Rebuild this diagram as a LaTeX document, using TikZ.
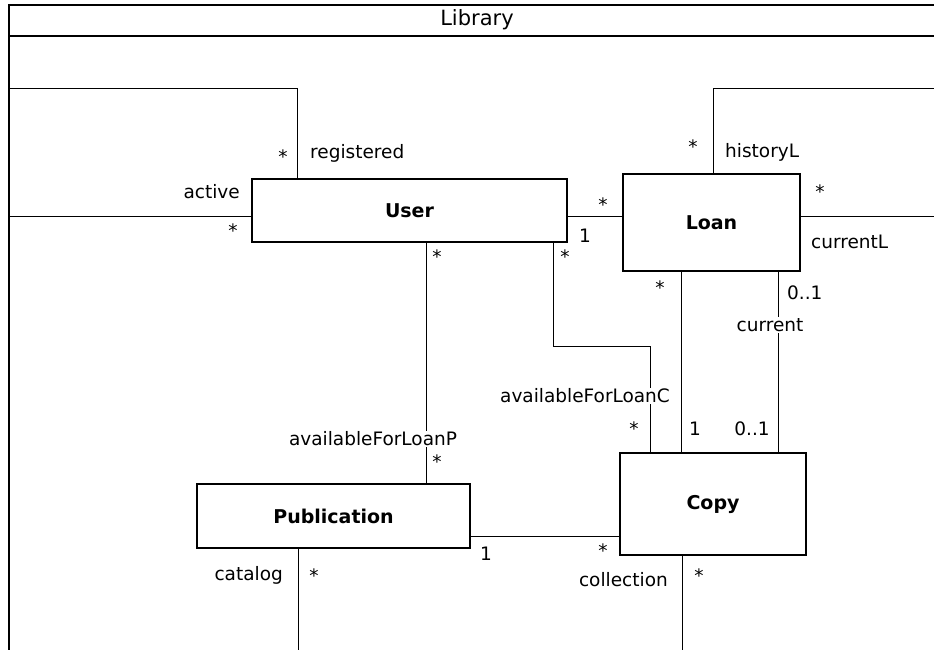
\documentclass[tikz,border=0pt]{standalone}
\usepackage{fontspec}
\setmainfont{DejaVu Sans}
\begin{document}
\begin{tikzpicture}[x=1pt,y=-1pt,
  cls/.style={draw,line width=1.3pt,inner sep=0pt,font=\fontsize{19}{22}\selectfont\bfseries},
  lbl/.style={inner sep=0pt,font=\fontsize{18.5}{22}\selectfont},
  wlbl/.style={lbl,fill=white,inner sep=1pt},
  conn/.style={line width=0.9pt},
  frm/.style={line width=1.6pt}]
\useasboundingbox (0,0) rectangle (934,650);
% frame
\coordinate (fBL) at (9,655);
\coordinate (fTL) at (9,5);
\coordinate (fTR) at (940,5);
\coordinate (hL) at (9,36);
\coordinate (hR) at (940,36);
\draw[frm] (fBL) -- (fTL) -- (fTR);
\draw[frm] (hL) -- (hR);
\node[lbl,font=\fontsize{21}{24}\selectfont] (title) at (477,20) {Library};
% classes
\node[cls,minimum width=315pt,minimum height=63pt] (user) at (409.5,210.5) {User};
\node[cls,minimum width=177pt,minimum height=97pt] (loan) at (711.5,222.5) {Loan};
\node[cls,minimum width=186pt,minimum height=102pt] (copy) at (713,504) {Copy};
\node[cls,minimum width=273pt,minimum height=64pt] (pub) at (333.5,516) {Publication};
% waypoints
\coordinate (regTop) at (297,88);
\coordinate (regEnd) at (9,88);
\coordinate (actEnd) at (9,216);
\coordinate (ulY) at (0,216);
\coordinate (upX) at (426,0);
\coordinate (uc1) at (553,346);
\coordinate (uc2) at (650,346);
\coordinate (lcX) at (681,0);
\coordinate (curX) at (778,0);
\coordinate (histTop) at (713,88);
\coordinate (histEnd) at (940,88);
\coordinate (curLEnd) at (940,216);
\coordinate (pcY) at (0,536);
\coordinate (catEnd) at (298,655);
\coordinate (colEnd) at (682,655);
% connectors
\draw[conn] (user.north -| regTop) -- (regTop) -- (regEnd);
\draw[conn] (user.west |- actEnd) -- (actEnd);
\draw[conn] (user.east |- ulY) -- (loan.west |- ulY);
\draw[conn] (user.south -| upX) -- (pub.north -| upX);
\draw[conn] (user.south -| uc1) -- (uc1) -- (uc2) -- (copy.north -| uc2);
\draw[conn] (loan.south -| lcX) -- (copy.north -| lcX);
\draw[conn] (loan.south -| curX) -- (copy.north -| curX);
\draw[conn] (loan.north -| histTop) -- (histTop) -- (histEnd);
\draw[conn] (loan.east |- curLEnd) -- (curLEnd);
\draw[conn] (pub.east |- pcY) -- (copy.west |- pcY);
\draw[conn] (pub.south -| catEnd) -- (catEnd);
\draw[conn] (copy.south -| colEnd) -- (colEnd);
% labels
\node[lbl,anchor=east] (lActive) at (240,192) {active};
\node[lbl] (sActive) at (233,231) {*};
\node[lbl] (sReg) at (283,157) {*};
\node[lbl,anchor=west] (lReg) at (310,153) {registered};
\node[lbl] (sUL) at (603,205) {*};
\node[lbl] (oUL) at (585,236) {1};
\node[lbl] (sUP) at (437,257) {*};
\node[lbl] (sUC) at (565,257) {*};
\node[lbl] (sHist) at (693,147) {*};
\node[lbl,anchor=west] (lHist) at (725,152) {historyL};
\node[lbl] (sCurL) at (820,192) {*};
\node[lbl,anchor=west] (lCurL) at (811,242) {currentL};
\node[lbl] (sLC) at (660,288) {*};
\node[lbl,anchor=west] (oCur1) at (787,293) {0..1};
\node[wlbl] (lCur) at (770,325) {current};
\node[wlbl] (lAFC) at (585,396) {availableForLoanC};
\node[lbl] (sAFC) at (634,429) {*};
\node[lbl] (oLC) at (695,429) {1};
\node[lbl] (oCur2) at (752,429) {0..1};
\node[wlbl] (lAFP) at (373,439) {availableForLoanP};
\node[lbl] (sAFP) at (437,462) {*};
\node[lbl] (oPC) at (486,554) {1};
\node[lbl] (sPC) at (603,551) {*};
\node[lbl,anchor=east] (lCat) at (283,575) {catalog};
\node[lbl] (sCat) at (314,576) {*};
\node[lbl,anchor=east] (lCol) at (668,580) {collection};
\node[lbl] (sCol) at (699,576) {*};
\end{tikzpicture}
\end{document}
